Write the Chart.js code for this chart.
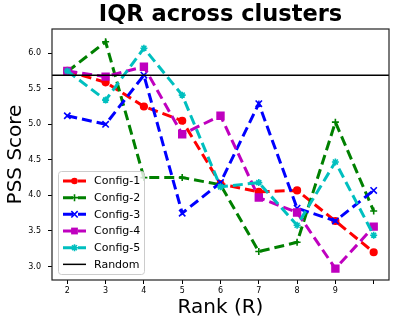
<!DOCTYPE html>
<html>
<head>
<meta charset="utf-8">
<script src="https://cdn.jsdelivr.net/npm/chart.js@4.4.0/dist/chart.umd.min.js"></script>
<style>
  html, body { margin: 0; padding: 0; background: #fff; }
  canvas { display: block; }
</style>
</head>
<body>
<canvas id="iqr-chart" width="399" height="327"></canvas>
<script>
// ===== DATA =====
const ranks = [2, 3, 4, 5, 6, 7, 8, 9, 10];
const xTickValues = [2, 3, 4, 5, 6, 7, 8, 9, 10];
const xTickLabels = ["2", "3", "4", "5", "6", "7", "8", "9", ""];
const yTickValues = [3.0, 3.5, 4.0, 4.5, 5.0, 5.5, 6.0];
const yTickLabels = ["3.0", "3.5", "4.0", "4.5", "5.0", "5.5", "6.0"];

const config1 = [5.75, 5.59, 5.25, 5.05, 4.16, 4.05, 4.07, 3.64, 3.20];
const config2 = [5.74, 6.16, 4.25, 4.25, 4.15, 3.21, 3.34, 5.03, 3.78];
const config3 = [5.12, 5.00, 5.69, 3.75, 4.18, 5.29, 3.82, 3.64, 4.07];
const config4 = [5.75, 5.67, 5.81, 4.86, 5.12, 3.97, 3.76, 2.97, 3.56];
const config5 = [5.75, 5.34, 6.07, 5.41, 4.12, 4.18, 3.58, 4.47, 3.44];
const randomScore = 5.69;

const xMin = 1.6, xMax = 10.4;
const yMin = 2.81, yMax = 6.34;
const titleText = "IQR across clusters";

// ===== HELPERS =====
const DASH = [10, 5];
const toPoints = vals => vals.map((v, i) => ({ x: ranks[i], y: v }));

function makeSeries(label, color, values, style, radius, order) {
  return {
    label,
    data: toPoints(values),
    borderColor: color,
    backgroundColor: color,
    pointBackgroundColor: color,
    pointBorderColor: color,
    pointStyle: style,
    pointRadius: radius,
    pointBorderWidth: 1.6,
    borderWidth: 3,
    borderDash: DASH,
    segment: { borderDash: () => DASH },
    tension: 0,
    fill: false,
    order
  };
}

function drawMarker(ctx, style, x, y, r, color) {
  ctx.save();
  ctx.fillStyle = color;
  ctx.strokeStyle = color;
  ctx.lineWidth = 1.6;
  ctx.setLineDash([]);
  ctx.beginPath();
  if (style === "circle") {
    ctx.arc(x, y, r, 0, Math.PI * 2);
    ctx.fill();
  } else if (style === "rect") {
    const s = r * Math.SQRT1_2;
    ctx.fillRect(x - s, y - s, 2 * s, 2 * s);
  } else if (style === "cross") {
    ctx.moveTo(x - r, y); ctx.lineTo(x + r, y);
    ctx.moveTo(x, y - r); ctx.lineTo(x, y + r);
    ctx.stroke();
  } else if (style === "crossRot") {
    const s = r * Math.SQRT1_2;
    ctx.moveTo(x - s, y - s); ctx.lineTo(x + s, y + s);
    ctx.moveTo(x - s, y + s); ctx.lineTo(x + s, y - s);
    ctx.stroke();
  } else if (style === "star") {
    const s = r * Math.SQRT1_2;
    ctx.moveTo(x - r, y); ctx.lineTo(x + r, y);
    ctx.moveTo(x, y - r); ctx.lineTo(x, y + r);
    ctx.moveTo(x - s, y - s); ctx.lineTo(x + s, y + s);
    ctx.moveTo(x - s, y + s); ctx.lineTo(x + s, y - s);
    ctx.stroke();
  }
  ctx.restore();
}

// ===== PLUGINS =====
const framePlugin = {
  id: "frame",
  afterDatasetsDraw(chart) {
    const { ctx, chartArea: a } = chart;
    ctx.save();
    ctx.strokeStyle = "#222";
    ctx.lineWidth = 1.2;
    ctx.strokeRect(a.left, a.top, a.right - a.left, a.bottom - a.top);
    ctx.restore();
  }
};

// title centred over the plot area, like matplotlib
const plotTitle = {
  id: "plotTitle",
  afterDraw(chart) {
    const { ctx, chartArea: a } = chart;
    ctx.save();
    ctx.font = "bold 22.5px 'DejaVu Sans'";
    ctx.fillStyle = "#000";
    ctx.textAlign = "center";
    ctx.textBaseline = "middle";
    ctx.fillText(titleText, (a.left + a.right) / 2, 15.5);
    ctx.restore();
  }
};

const boxLegend = {
  id: "boxLegend",
  afterDraw(chart) {
    const { ctx, chartArea: a } = chart;
    const left = a.left + 6, bottom = a.bottom - 6;
    const w = 86, h = 103, rowH = 16.67;
    const top = bottom - h;
    ctx.save();
    ctx.fillStyle = "rgba(255,255,255,0.8)";
    ctx.strokeStyle = "#cccccc";
    ctx.lineWidth = 1;
    ctx.beginPath();
    ctx.roundRect(left + 0.5, top + 0.5, w, h, 3);
    ctx.fill();
    ctx.stroke();

    ctx.font = "11px 'DejaVu Sans'";
    ctx.textBaseline = "middle";
    ctx.textAlign = "left";
    chart.data.datasets.forEach((ds, i) => {
      const y = top + 10 + i * rowH;
      ctx.strokeStyle = ds.borderColor;
      ctx.lineWidth = ds.borderWidth;
      ctx.setLineDash(ds.borderDash || []);
      ctx.beginPath();
      ctx.moveTo(left + 5, y);
      ctx.lineTo(left + 28, y);
      ctx.stroke();
      ctx.setLineDash([]);
      if (ds.pointRadius > 0) {
        drawMarker(ctx, ds.pointStyle, left + 16.5, y, ds.pointRadius, ds.borderColor);
      }
      ctx.fillStyle = "#000";
      ctx.fillText(ds.label, left + 36, y + 0.5);
    });
    ctx.restore();
  }
};

// ===== CHART =====
Chart.defaults.font.family = "'DejaVu Sans', sans-serif";

const ctx = document.getElementById("iqr-chart").getContext("2d");
const iqrChart = new Chart(ctx, {
  type: "line",
  data: {
    datasets: [
      makeSeries("Config-1", "#ff0000", config1, "circle", 3.3, 6),
      makeSeries("Config-2", "#008000", config2, "cross", 3.5, 5),
      makeSeries("Config-3", "#0000ff", config3, "crossRot", 4.5, 4),
      makeSeries("Config-4", "#bf00bf", config4, "rect", 4.8, 3),
      makeSeries("Config-5", "#00bfbf", config5, "star", 3.5, 2),
      {
        label: "Random",
        data: [{ x: xMin, y: randomScore }, { x: xMax, y: randomScore }],
        borderColor: "#000",
        backgroundColor: "#000",
        borderWidth: 1.5,
        pointRadius: 0,
        borderDash: [],
        fill: false,
        order: 1
      }
    ]
  },
  options: {
    responsive: false,
    animation: false,
    events: [],
    layout: { padding: { left: 0, right: 10, top: 29, bottom: 0 } },
    plugins: {
      legend: { display: false },
      tooltip: { enabled: false },
      title: { display: false }
    },
    scales: {
      x: {
        type: "linear",
        min: xMin,
        max: xMax,
        afterBuildTicks: s => { s.ticks = xTickValues.map(v => ({ value: v })); },
        afterFit: s => { s.height = 47; },
        ticks: {
          color: "#000",
          font: { size: 8 },
          padding: 2,
          maxRotation: 0,
          autoSkip: false,
          callback: v => xTickLabels[xTickValues.indexOf(v)]
        },
        grid: { drawOnChartArea: false, drawTicks: true, tickLength: 4, color: "#000" },
        border: { display: false },
        title: {
          display: true,
          text: "Rank (R)",
          color: "#000",
          font: { size: 20 },
          padding: { top: 0, bottom: 7 }
        }
      },
      y: {
        type: "linear",
        min: yMin,
        max: yMax,
        afterBuildTicks: s => { s.ticks = yTickValues.map(v => ({ value: v })); },
        afterFit: s => { s.width = 52; },
        ticks: {
          color: "#000",
          font: { size: 8 },
          padding: 7,
          autoSkip: false,
          callback: v => yTickLabels[yTickValues.indexOf(v)]
        },
        grid: { drawOnChartArea: false, drawTicks: true, tickLength: 4, color: "#000" },
        border: { display: false },
        title: {
          display: true,
          text: "PSS Score",
          color: "#000",
          font: { size: 20 },
          padding: { top: 4, bottom: 0 }
        }
      }
    }
  },
  plugins: [framePlugin, plotTitle, boxLegend]
});
</script>
</body>
</html>
